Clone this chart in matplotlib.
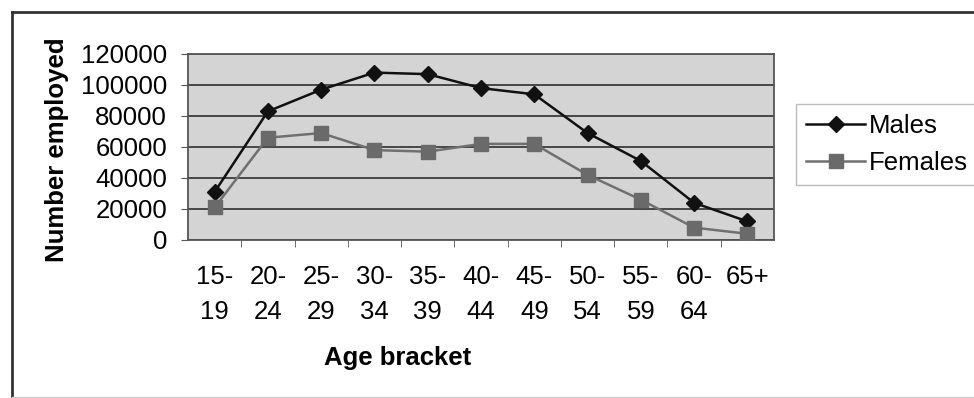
import matplotlib
matplotlib.use("Agg")
import matplotlib.pyplot as plt
from matplotlib.lines import Line2D

# data
age_brackets = ['15-\n19', '20-\n24', '25-\n29', '30-\n34', '35-\n39', '40-\n44',
                '45-\n49', '50-\n54', '55-\n59', '60-\n64', '65+\n']
males = [31000, 83000, 97000, 108000, 107000, 98000, 94000, 69000, 51000, 24000, 12000]
females = [21000, 66000, 69000, 58000, 57000, 62000, 62000, 42000, 26000, 8000, 4000]
y_ticks = [0, 20000, 40000, 60000, 80000, 100000, 120000]

plt.rcParams['font.family'] = ['Liberation Sans', 'DejaVu Sans']
FS = 18.5

W, H = 974, 398
fig = plt.figure(figsize=(W / 100, H / 100), dpi=100)
ax = fig.add_axes([188 / W, 1 - 240 / H, (774 - 188) / W, (240 - 54) / H])

x = list(range(len(age_brackets)))
ax.set_facecolor('#d4d4d4')
ax.grid(axis='y', color='#3c3c3c', linewidth=1.3)
ax.set_axisbelow(True)

ax.plot(x, males, color='#111111', linewidth=1.8, marker='D', markersize=8.5,
        markerfacecolor='#111111', markeredgecolor='#111111', label='Males', zorder=3)
ax.plot(x, females, color='#707070', linewidth=1.8, marker='s', markersize=10,
        markerfacecolor='#6a6a6a', markeredgecolor='#6a6a6a', label='Females', zorder=3)

ax.set_xlim(-0.5, len(age_brackets) - 0.5)
ax.set_ylim(0, 120000)
ax.set_yticks(y_ticks)
ax.set_yticklabels([str(v) for v in y_ticks], fontsize=FS)

ax.set_xticks([i + 0.5 for i in range(len(age_brackets) - 1)], minor=True)
ax.set_xticks(x)
ax.set_xticklabels(age_brackets, fontsize=FS, linespacing=1.6, va='top')
ax.tick_params(axis='x', which='major', length=0, pad=18)
ax.tick_params(axis='x', which='minor', length=5, color='#555555', direction='out')
ax.tick_params(axis='y', length=5, color='#555555', pad=10)

for side in ['left', 'bottom', 'top', 'right']:
    ax.spines[side].set_color('#555555')
    ax.spines[side].set_linewidth(1.3)

fig.text(398 / W, 1 - 358 / H, 'Age bracket', fontsize=FS, fontweight='bold',
         ha='center', va='center')
fig.text(57 / W, 1 - 150 / H, 'Number employed', fontsize=FS, fontweight='bold',
         rotation=90, ha='center', va='center')

leg = ax.legend(loc='upper left', bbox_to_anchor=(796 / W, 1 - 104 / H),
                bbox_transform=fig.transFigure, fontsize=FS, frameon=True,
                fancybox=False, edgecolor='#aaaaaa', handlelength=2.3,
                handletextpad=0.15, borderpad=0.4, labelspacing=0.5,
                borderaxespad=0)
leg.get_frame().set_linewidth(1.0)

# outer chart frame
fig.add_artist(Line2D([12 / W, 12 / W], [1 / H, 1 - 12 / H], color='#333333', linewidth=2))
fig.add_artist(Line2D([12 / W, 1.0], [1 - 12 / H, 1 - 12 / H], color='#333333', linewidth=2))
fig.add_artist(Line2D([12 / W, 1.0], [1.5 / H, 1.5 / H], color='#cccccc', linewidth=1))

fig.savefig('out.png', dpi=100, facecolor='white')
